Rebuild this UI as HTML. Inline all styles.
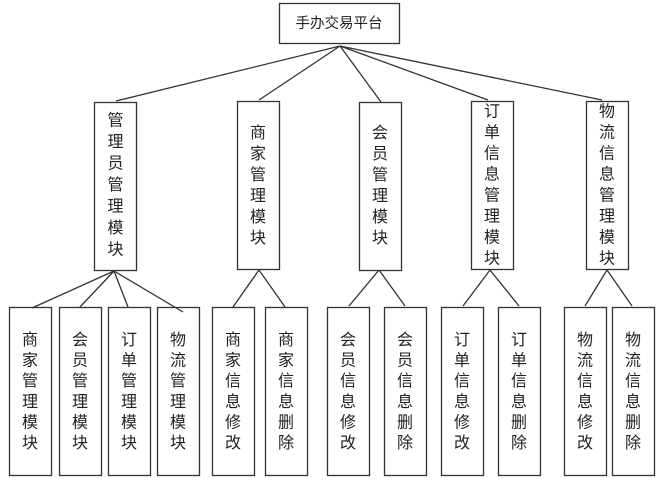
<!DOCTYPE html>
<html><head><meta charset="utf-8"><style>
html,body{margin:0;padding:0;background:#fff;}
svg{display:block;}
text{font-family:"Liberation Sans","Noto Sans CJK SC",sans-serif;fill:#222;}
</style></head><body>
<svg width="667" height="485" viewBox="0 0 667 485" xmlns="http://www.w3.org/2000/svg">
<g fill="none" stroke="#333" stroke-width="1.3">
<rect x="279.5" y="3.5" width="120" height="40"/>
<rect x="94.5" y="102.5" width="42" height="168"/>
<rect x="237.5" y="101.5" width="42" height="168"/>
<rect x="359.5" y="102.5" width="42" height="168"/>
<rect x="471.5" y="101.5" width="42" height="168"/>
<rect x="586.5" y="101.5" width="42" height="168"/>
<rect x="9.5" y="307.5" width="42" height="168"/>
<rect x="59.5" y="307.5" width="42" height="168"/>
<rect x="108.5" y="307.5" width="42" height="168"/>
<rect x="157.5" y="307.5" width="42" height="168"/>
<rect x="212.5" y="307.5" width="42" height="168"/>
<rect x="265.5" y="307.5" width="42" height="168"/>
<rect x="327.5" y="307.5" width="42" height="168"/>
<rect x="384.5" y="307.5" width="42" height="168"/>
<rect x="441.5" y="307.5" width="42" height="168"/>
<rect x="498.5" y="307.5" width="42" height="168"/>
<rect x="564.5" y="307.5" width="42" height="168"/>
<rect x="612.5" y="307.5" width="42" height="168"/>
<path d="M340 46 L116 101 M340 46 L259 100 M340 46 L381 102 M340 46 L488 100 M340 46 L602 100"/>
<path d="M114 271 L32 308 M114 271 L80 307 M114 271 L128 307 M114 271 L183 312"/>
<path d="M259 270 L233 307 M259 270 L285 307"/>
<path d="M379 270 L349 306 M379 270 L405 306"/>
<path d="M490 270 L463 306 M490 270 L519 306"/>
<path d="M607 270 L585 306 M607 270 L632 306"/>
</g>
<g font-size="14.5" text-anchor="middle" dominant-baseline="central">
<text x="339" y="24">手办交易平台</text>
</g>
<g font-size="16" text-anchor="middle" dominant-baseline="central">
<text><tspan x="115.5" y="120.5">管</tspan><tspan x="115.5" y="142">理</tspan><tspan x="115.5" y="163.5">员</tspan><tspan x="115.5" y="185">管</tspan><tspan x="115.5" y="206.5">理</tspan><tspan x="115.5" y="228">模</tspan><tspan x="115.5" y="249.5">块</tspan></text>
<text><tspan x="258" y="133">商</tspan><tspan x="258" y="154">家</tspan><tspan x="258" y="175">管</tspan><tspan x="258" y="196">理</tspan><tspan x="258" y="217">模</tspan><tspan x="258" y="238">块</tspan></text>
<text><tspan x="380" y="133">会</tspan><tspan x="380" y="154">员</tspan><tspan x="380" y="175">管</tspan><tspan x="380" y="196">理</tspan><tspan x="380" y="217">模</tspan><tspan x="380" y="238">块</tspan></text>
<text><tspan x="492" y="111.5">订</tspan><tspan x="492" y="132.5">单</tspan><tspan x="492" y="153.5">信</tspan><tspan x="492" y="174.5">息</tspan><tspan x="492" y="195.5">管</tspan><tspan x="492" y="216.5">理</tspan><tspan x="492" y="237.5">模</tspan><tspan x="492" y="258.5">块</tspan></text>
<text><tspan x="607" y="111.5">物</tspan><tspan x="607" y="132.5">流</tspan><tspan x="607" y="153.5">信</tspan><tspan x="607" y="174.5">息</tspan><tspan x="607" y="195.5">管</tspan><tspan x="607" y="216.5">理</tspan><tspan x="607" y="237.5">模</tspan><tspan x="607" y="258.5">块</tspan></text>

<text><tspan x="30" y="340">商</tspan><tspan x="30" y="360.5">家</tspan><tspan x="30" y="381">管</tspan><tspan x="30" y="402">理</tspan><tspan x="30" y="422.5">模</tspan><tspan x="30" y="443">块</tspan></text>
<text><tspan x="80" y="340">会</tspan><tspan x="80" y="360.5">员</tspan><tspan x="80" y="381">管</tspan><tspan x="80" y="402">理</tspan><tspan x="80" y="422.5">模</tspan><tspan x="80" y="443">块</tspan></text>
<text><tspan x="129" y="340">订</tspan><tspan x="129" y="360.5">单</tspan><tspan x="129" y="381">管</tspan><tspan x="129" y="402">理</tspan><tspan x="129" y="422.5">模</tspan><tspan x="129" y="443">块</tspan></text>
<text><tspan x="178" y="340">物</tspan><tspan x="178" y="360.5">流</tspan><tspan x="178" y="381">管</tspan><tspan x="178" y="402">理</tspan><tspan x="178" y="422.5">模</tspan><tspan x="178" y="443">块</tspan></text>
<text><tspan x="233" y="340">商</tspan><tspan x="233" y="360.5">家</tspan><tspan x="233" y="381">信</tspan><tspan x="233" y="402">息</tspan><tspan x="233" y="422.5">修</tspan><tspan x="233" y="443">改</tspan></text>
<text><tspan x="286" y="340">商</tspan><tspan x="286" y="360.5">家</tspan><tspan x="286" y="381">信</tspan><tspan x="286" y="402">息</tspan><tspan x="286" y="422.5">删</tspan><tspan x="286" y="443">除</tspan></text>
<text><tspan x="348" y="340">会</tspan><tspan x="348" y="360.5">员</tspan><tspan x="348" y="381">信</tspan><tspan x="348" y="402">息</tspan><tspan x="348" y="422.5">修</tspan><tspan x="348" y="443">改</tspan></text>
<text><tspan x="405" y="340">会</tspan><tspan x="405" y="360.5">员</tspan><tspan x="405" y="381">信</tspan><tspan x="405" y="402">息</tspan><tspan x="405" y="422.5">删</tspan><tspan x="405" y="443">除</tspan></text>
<text><tspan x="462" y="340">订</tspan><tspan x="462" y="360.5">单</tspan><tspan x="462" y="381">信</tspan><tspan x="462" y="402">息</tspan><tspan x="462" y="422.5">修</tspan><tspan x="462" y="443">改</tspan></text>
<text><tspan x="519" y="340">订</tspan><tspan x="519" y="360.5">单</tspan><tspan x="519" y="381">信</tspan><tspan x="519" y="402">息</tspan><tspan x="519" y="422.5">删</tspan><tspan x="519" y="443">除</tspan></text>
<text><tspan x="585" y="340">物</tspan><tspan x="585" y="360.5">流</tspan><tspan x="585" y="381">信</tspan><tspan x="585" y="402">息</tspan><tspan x="585" y="422.5">修</tspan><tspan x="585" y="443">改</tspan></text>
<text><tspan x="633" y="340">物</tspan><tspan x="633" y="360.5">流</tspan><tspan x="633" y="381">信</tspan><tspan x="633" y="402">息</tspan><tspan x="633" y="422.5">删</tspan><tspan x="633" y="443">除</tspan></text>
</g>
</svg>
</body></html>
